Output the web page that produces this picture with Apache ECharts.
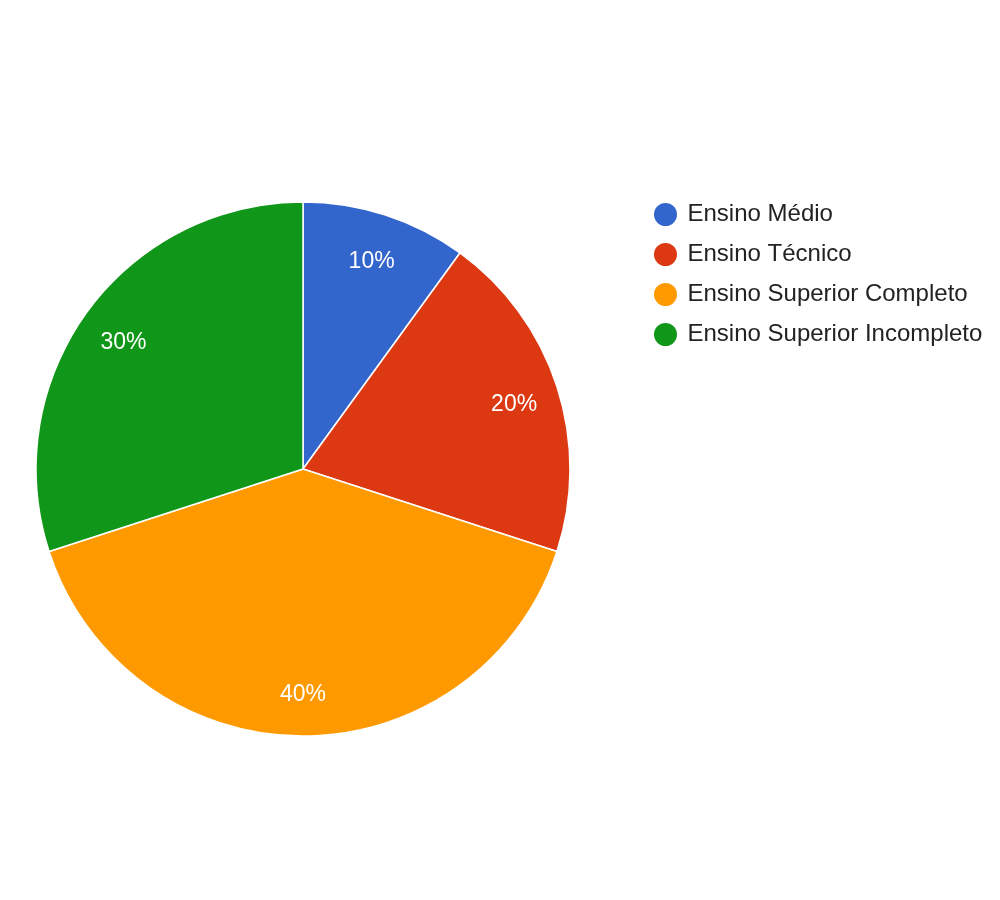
<!DOCTYPE html>
<html>
<head>
<meta charset="utf-8">
<script src="https://cdn.jsdelivr.net/npm/echarts@6/dist/echarts.min.js"></script>
<style>
  html, body { margin: 0; padding: 0; background: #fff; }
  #chart { width: 1000px; height: 900px; }
</style>
</head>
<body>
<div id="chart"></div>
<script>
const categories = ['Ensino Médio', 'Ensino Técnico', 'Ensino Superior Completo', 'Ensino Superior Incompleto']
const values = [10, 20, 40, 30]
const colors = ['#3366cc', '#dc3912', '#ff9900', '#109618']

const pieData = categories.map((name, i) => ({ name, value: values[i] }))

const chart = echarts.init(document.getElementById('chart'), null, { renderer: 'canvas' })
chart.setOption({
  animation: false,
  color: colors,
  textStyle: { fontFamily: '"Liberation Sans", Arial, sans-serif' },
  legend: {
    orient: 'vertical',
    left: 652,
    top: 201,
    padding: 0,
    icon: 'circle',
    itemWidth: 34,
    itemHeight: 25,
    itemGap: 13,
    textStyle: { fontSize: 24, color: '#222', lineHeight: 24, fontFamily: '"Liberation Sans", Arial, sans-serif' },
    data: categories
  },
  series: [
    { // 饼图本体
      type: 'pie',
      center: [303, 469],
      radius: [0, 267],
      startAngle: 90,
      clockwise: true,
      label: { show: false },
      labelLine: { show: false },
      itemStyle: { borderColor: '#fff', borderWidth: 1.5 },
      emphasis: { disabled: true },
      data: pieData
    },
    { // 只用来放百分比标签
      type: 'pie',
      center: [303, 469],
      radius: [171, 267],
      startAngle: 90,
      clockwise: true,
      silent: true,
      itemStyle: { color: 'rgba(0,0,0,0)', borderWidth: 0 },
      label: {
        show: true,
        position: 'inside',
        formatter: '{d}%',
        color: '#fff',
        fontSize: 23,
        offset: [0, 4],
        fontFamily: '"Liberation Sans", Arial, sans-serif'
      },
      labelLine: { show: false },
      emphasis: { disabled: true },
      data: pieData
    }
  ]
})
</script>
</body>
</html>
